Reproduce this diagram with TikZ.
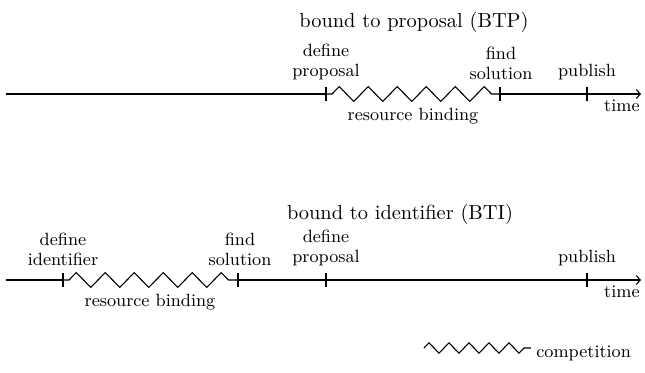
\documentclass[tikz,border=0pt]{standalone}
\usetikzlibrary{decorations.pathmorphing,arrows.meta}
\begin{document}
\begin{tikzpicture}[x=0.5pt,y=-0.5pt,
  base/.style={line width=0.55pt},
  tickline/.style={line width=0.55pt},
  zz/.style={decorate, decoration={zigzag, segment length=14.5pt, amplitude=3.7pt, pre length=3pt, post length=1pt}},
  zzleg/.style={decorate, decoration={zigzag, segment length=10pt, amplitude=2.6pt, post length=1pt}},
  arr/.style={-{Straight Barb[length=2pt,width=4.5pt,line width=0.55pt]}},
  lbl/.style={font=\fontsize{8.85}{10}\selectfont, align=center, inner sep=0pt},
  ttl/.style={font=\fontsize{10.2}{12}\selectfont, inner sep=0pt, anchor=base}]
\useasboundingbox (0,0) rectangle (645,372);

% ---------- BTP ----------
\node[ttl] (t1) at (414,27) {bound to proposal (BTP)};
\coordinate (a0) at (6,94);
\coordinate (a1) at (326,94);
\coordinate (a2) at (500,94);
\coordinate (a3) at (587,94);
\coordinate (a4) at (641,94);
\draw[base] (a0) -- (a1);
\draw[base,zz] (a1) -- (a2);
\draw[base,arr] (a2) -- (a4);
\foreach \c in {a1,a2,a3} \draw[tickline] ([yshift=-3.5pt]\c) -- ([yshift=3.5pt]\c);
\node[lbl,anchor=south] (l1) at (326,80) {define\\proposal};
\node[lbl,anchor=south] (l2) at (501,80) {find\\solution};
\node[lbl,anchor=south] (l3) at (587,80) {publish};
\node[lbl,anchor=base] (r1) at (413,120) {resource binding};
\node[lbl,anchor=base east] (tm1) at (640,111) {time};

% ---------- BTI ----------
\node[ttl] (t2) at (400,219) {bound to identifier (BTI)};
\coordinate (b0) at (6,280);
\coordinate (b1) at (63,280);
\coordinate (b2) at (238,280);
\coordinate (b3) at (326,280);
\coordinate (b4) at (587,280);
\coordinate (b5) at (641,280);
\draw[base] (b0) -- (b1);
\draw[base,zz] (b1) -- (b2);
\draw[base,arr] (b2) -- (b5);
\foreach \c in {b1,b2,b3,b4} \draw[tickline] ([yshift=-3.5pt]\c) -- ([yshift=3.5pt]\c);
\node[lbl,anchor=south] (m1) at (63,266) {define\\identifier};
\node[lbl,anchor=south] (m2) at (240,266) {find\\solution};
\node[lbl,anchor=south] (m3) at (326,266) {define\\proposal};
\node[lbl,anchor=south] (m4) at (587,266) {publish};
\node[lbl,anchor=base] (r2) at (150,306) {resource binding};
\node[lbl,anchor=base east] (tm2) at (640,297) {time};

% ---------- legend ----------
\coordinate (g0) at (424,348);
\coordinate (g1) at (531,348);
\draw[base,zzleg] (g0) -- (g1);
\node[lbl,anchor=west] (comp) at (536,353) {competition};
\end{tikzpicture}
\end{document}
